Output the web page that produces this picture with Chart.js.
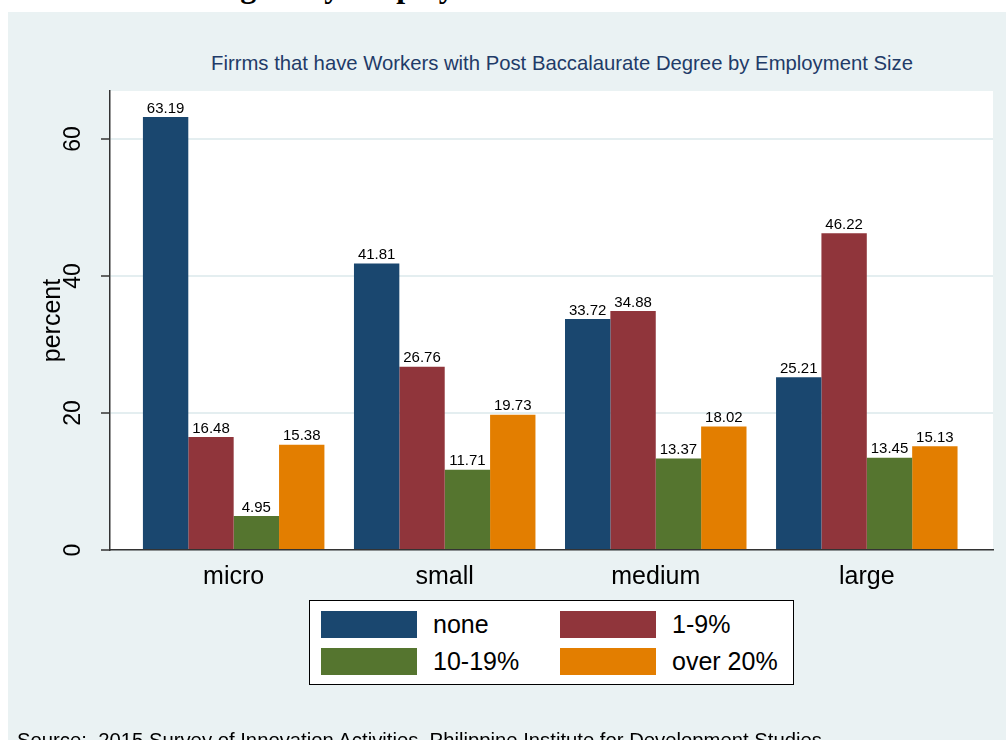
<!DOCTYPE html>
<html>
<head>
<meta charset="utf-8">
<script src="https://cdn.jsdelivr.net/npm/chart.js@4.4.1/dist/chart.umd.min.js"></script>
<style>
    body {
        margin: 0;
        width: 1006px;
        height: 740px;
        overflow: hidden;
        background: #ffffff;
        font-family: Arial, "Liberation Sans", sans-serif;
        position: relative;
    }
    #heading {
        position: absolute;
        left: 203px;
        top: -30px;
        font-family: "Liberation Serif", "Times New Roman", serif;
        font-weight: bold;
        font-size: 32px;
        line-height: 32px;
        white-space: nowrap;
        color: #000;
    }
    #panel {
        position: absolute;
        left: 8px;
        top: 12px;
        width: 998px;
        height: 728px;
        background: #eaf2f3;
    }
    #chartTitle {
        position: absolute;
        left: 0;
        width: 1108px;
        top: 40px;
        text-align: center;
        font-size: 20.3px;
        color: #1f3b68;
        white-space: nowrap;
    }
    canvas {
        position: absolute;
        left: 0;
        top: 0;
    }
    #legend {
        position: absolute;
        left: 301px;
        top: 588px;
        width: 485px;
        height: 85px;
        border: 1px solid #000;
        background: #fff;
        display: grid;
        grid-template-columns: 239px 239px;
        grid-auto-rows: 27px;
        row-gap: 10px;
        padding: 10px 0 0 11px;
        box-sizing: border-box;
    }
    .item {
        display: flex;
        align-items: center;
        font-size: 25px;
        color: #000;
        white-space: nowrap;
    }
    .swatch {
        width: 96px;
        height: 27px;
        margin-right: 16px;
    }
    #source {
        position: absolute;
        left: 9px;
        top: 717px;
        font-size: 20.3px;
        white-space: nowrap;
        color: #000;
    }
</style>
</head>
<body>
<div id="heading">Degree by Employment Size</div>
<div id="panel">
    <div id="chartTitle">Firrms that have Workers with Post Baccalaurate Degree by Employment Size</div>
    <canvas id="chart" width="998" height="728"></canvas>
    <div id="legend"></div>
    <div id="source">Source:&nbsp; 2015 Survey of Innovation Activities, Philippine Institute for Development Studies</div>
</div>
<script>
// Categories and series (percent of firms)
const sizes = ['micro', 'small', 'medium', 'large'];
const seriesNames = ['none', '1-9%', '10-19%', 'over 20%'];
const noneValues = [63.19, 41.81, 33.72, 25.21];
const lowValues = [16.48, 26.76, 34.88, 46.22];
const midValues = [4.95, 11.71, 13.37, 13.45];
const highValues = [15.38, 19.73, 18.02, 15.13];
const yTicks = [0, 20, 40, 60];

// Stata s2color palette
const colors = ['#1a476f', '#90353b', '#55752f', '#e37e00'];

function toPoints(values) {
    return values.map((v, i) => ({ x: i, y: v }));
}

// White plot region behind the bars
const plotBackground = {
    id: 'plotBackground',
    beforeDraw(chart) {
        const { ctx, chartArea } = chart;
        ctx.save();
        ctx.fillStyle = '#ffffff';
        ctx.fillRect(chartArea.left, chartArea.top, chartArea.right - chartArea.left, chartArea.bottom - chartArea.top);
        ctx.restore();
    }
};

// Value labels above each bar
const barLabels = {
    id: 'barLabels',
    afterDatasetsDraw(chart) {
        const ctx = chart.ctx;
        ctx.save();
        ctx.font = '15px Arial, "Liberation Sans", sans-serif';
        ctx.fillStyle = '#000';
        ctx.textAlign = 'center';
        ctx.textBaseline = 'bottom';
        chart.data.datasets.forEach((ds, i) => {
            chart.getDatasetMeta(i).data.forEach((bar, j) => {
                ctx.fillText(ds.data[j].y.toFixed(2), bar.x, bar.y - 1);
            });
        });
        ctx.restore();
    }
};

const ctx = document.getElementById('chart').getContext('2d');
const chart = new Chart(ctx, {
    type: 'bar',
    data: {
        datasets: [
            { label: seriesNames[0], data: toPoints(noneValues), backgroundColor: colors[0] },
            { label: seriesNames[1], data: toPoints(lowValues), backgroundColor: colors[1] },
            { label: seriesNames[2], data: toPoints(midValues), backgroundColor: colors[2] },
            { label: seriesNames[3], data: toPoints(highValues), backgroundColor: colors[3] }
        ]
    },
    options: {
        responsive: false,
        animation: false,
        events: [],
        categoryPercentage: 0.86,
        barPercentage: 1.0,
        layout: {
            padding: { top: 79, right: 13, bottom: 150, left: 0 }
        },
        scales: {
            x: {
                type: 'linear',
                bounds: 'data',
                offset: false,
                min: -0.586,
                max: 3.598,
                afterBuildTicks(axis) {
                    axis.ticks = sizes.map((s, i) => ({ value: i }));
                },
                afterFit(axis) {
                    axis.height = 40;
                },
                grid: { display: false, drawTicks: false },
                border: { display: true, color: '#333333', width: 1.5 },
                ticks: {
                    padding: 12,
                    maxRotation: 0,
                    font: { size: 25, family: 'Arial, "Liberation Sans", sans-serif' },
                    color: '#000',
                    callback: (value) => sizes[value]
                }
            },
            y: {
                min: 0,
                max: 67,
                afterBuildTicks(axis) {
                    axis.ticks = yTicks.map(v => ({ value: v }));
                },
                afterFit(axis) {
                    axis.width = 102;
                },
                grid: {
                    color: '#e4eef0',
                    lineWidth: 2,
                    tickColor: '#333333',
                    tickLength: 9,
                    tickWidth: 1.5
                },
                border: { display: true, color: '#333333', width: 1.5 },
                ticks: {
                    minRotation: 90,
                    maxRotation: 90,
                    crossAlign: 'center',
                    padding: 15,
                    font: { size: 23, family: 'Arial, "Liberation Sans", sans-serif' },
                    color: '#000'
                },
                title: {
                    display: true,
                    text: 'percent',
                    color: '#000',
                    font: { size: 25, family: 'Arial, "Liberation Sans", sans-serif' },
                    padding: { top: 30, bottom: 0 }
                }
            }
        },
        plugins: {
            legend: { display: false },
            tooltip: { enabled: false },
            title: { display: false }
        }
    },
    plugins: [plotBackground, barLabels]
});

// Legend built from the datasets
const legendBox = document.getElementById('legend');
chart.data.datasets.forEach(ds => {
    const item = document.createElement('div');
    item.className = 'item';
    item.innerHTML = `<div class="swatch" style="background:${ds.backgroundColor}"></div><span>${ds.label}</span>`;
    legendBox.appendChild(item);
});
</script>
</body>
</html>
